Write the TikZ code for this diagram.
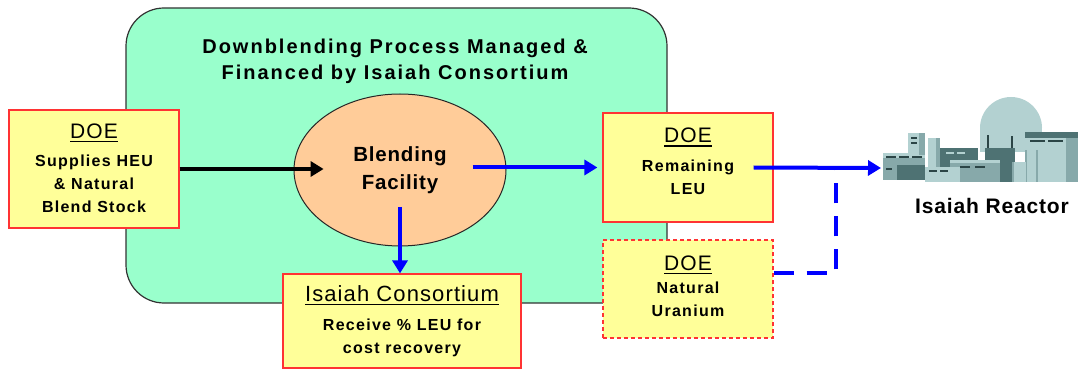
\documentclass[tikz,border=0pt]{standalone}
\usepackage{fontspec}
\setmainfont{Liberation Sans}
\newfontfamily\bodyfont[LetterSpace=8]{Liberation Sans}
\newfontfamily\headfont[LetterSpace=5]{Liberation Sans}
\newfontfamily\titlefont[LetterSpace=10]{Liberation Sans}
\newfontfamily\blendfont[LetterSpace=4]{Liberation Sans}
\usetikzlibrary{arrows.meta,shapes.geometric,calc}

\definecolor{panelgreen}{HTML}{99FFCC}
\definecolor{noteyellow}{HTML}{FFFF99}
\definecolor{peach}{HTML}{FFCC99}
\definecolor{edgered}{HTML}{FF3333}
\definecolor{flowblue}{HTML}{0000FF}
\definecolor{rlight}{HTML}{B3D1D1}
\definecolor{rmid}{HTML}{87A9AA}
\definecolor{rdark}{HTML}{4E7273}
\definecolor{rvdark}{HTML}{2B4546}

% underlined heading (regular weight) with a heavier rule
\newcommand\ulhead[2]{{\headfont\mdseries\fontsize{#1}{#1}\selectfont
  \setbox0\hbox{#2}\leavevmode\rlap{\rule[-4pt]{\wd0}{1.6pt}}\box0}}

\tikzset{
  panel/.style={draw=black!80, line width=1.2pt, fill=panelgreen, rounded corners=38pt},
  notebox/.style={draw=edgered, line width=1.2pt, fill=noteyellow, inner sep=0pt},
  dashbox/.style={notebox, dash pattern=on 4pt off 3pt},
  blendnode/.style={ellipse, draw=black!85, line width=1pt, fill=peach,
    inner sep=0pt, align=center,
    font=\blendfont\bfseries\fontsize{20.5}{27.5}\selectfont},
  bodytext/.style={align=center, inner sep=0pt, font=\bodyfont\bfseries\fontsize{16}{23}\selectfont},
  titletext/.style={align=center, inner sep=0pt, font=\titlefont\bfseries\fontsize{20}{26}\selectfont},
  plantlabel/.style={inner sep=0pt, font=\blendfont\bfseries\fontsize{21}{21}\selectfont},
  flow/.style={line width=4pt, -{Triangle[length=13pt,width=15pt]}},
  blueflow/.style={flow, flowblue},
  dashflow/.style={line width=4pt, flowblue, dash pattern=on 20pt off 13pt},
}

\begin{document}
\begin{tikzpicture}[x=1pt,y=-1pt]
\useasboundingbox (0,0) rectangle (1078,371);

% managed process area
\node[panel, minimum width=541pt, minimum height=295pt] (panel) at (396.5,155.5) {};
\node[titletext] (title) at (395,61) {Downblending Process Managed \&\\Financed by Isaiah Consortium};

% blending facility
\node[blendnode, minimum width=212pt, minimum height=152pt] (blend) at (400,170) {Blending\\Facility};

% parties
\node[notebox, minimum width=170pt, minimum height=118pt] (supply) at (94,169) {};
\node[bodytext] (supplytxt) at ([yshift=1pt]supply.center) {\ulhead{21}{DOE}\\[5pt]Supplies HEU\\\& Natural\\Blend Stock};

\node[notebox, minimum width=238pt, minimum height=94pt] (consort) at (402,321) {};
\node[bodytext] (consorttxt) at ([yshift=0pt]consort.center) {\ulhead{22}{Isaiah Consortium}\\[6pt]Receive \% LEU for\\cost recovery};

\node[notebox, minimum width=170pt, minimum height=109pt] (leu) at (688,167.5) {};
\node[bodytext] (leutxt) at ([yshift=6pt]leu.center) {\ulhead{21}{DOE}\\[6pt]Remaining\\LEU};

\node[dashbox, minimum width=170pt, minimum height=98pt] (natural) at (688,289) {};
\node[bodytext] (naturaltxt) at ([yshift=3pt]natural.center) {\ulhead{21}{DOE}\\[0pt]Natural\\Uranium};

% reactor plant
\fill[rlight] (980,128) rectangle (1042,152);
\fill[rlight] (980,128) arc[start angle=180, end angle=0, radius=31pt];
\fill[rvdark] (987,135) rectangle (989,150);
\fill[rvdark] (1011,136) rectangle (1013,150);
\fill[rmid] (883,153) rectangle (925,180);
\fill[rlight] (883,153) rectangle (925,158);
\fill[rvdark] (886,156) rectangle (896,158);
\fill[rvdark] (899,156) rectangle (909,158);
\fill[rvdark] (912,156) rectangle (922,158);
\fill[rdark] (897,165) rectangle (925,180);
\fill[rvdark] (886,168) rectangle (892,170);
\fill[rlight] (908,133) rectangle (925,155);
\fill[rmid] (919,133) rectangle (925,155);
\fill[rvdark] (911,137) rectangle (917,139);
\fill[rvdark] (911,142) rectangle (917,144);
\fill[rlight] (928,138) rectangle (940,180);
\fill[rmid] (936,138) rectangle (940,180);
\fill[rdark] (940,148) rectangle (978,180);
\fill[rlight] (946,152) rectangle (954,154);
\fill[rlight] (957,152) rectangle (965,154);
\fill[rdark] (985,148) rectangle (1015,182);
\fill[rmid] (950,160) rectangle (1000,182);
\fill[rlight] (950,160) rectangle (1000,163);
\fill[rvdark] (960,166) rectangle (970,168);
\fill[rvdark] (975,166) rectangle (985,168);
\fill[rlight] (925,167) rectangle (960,182);
\fill[rvdark] (929,170) rectangle (937,172);
\fill[rvdark] (940,170) rectangle (948,172);
\fill[rdark] (1025,132) rectangle (1078,138);
\fill[rlight] (1025,138) rectangle (1066,182);
\fill[rmid] (1066,138) rectangle (1078,182);
\fill[rvdark] (1030,140) rectangle (1045,142);
\fill[rvdark] (1048,140) rectangle (1063,142);
\fill[rlight] (1025,150) rectangle (1050,182);
\fill[rmid] (1036,150) rectangle (1038,182);
\fill[rmid] (1025,150) rectangle (1027,182);
\fill[rlight] (1012,162) rectangle (1026,182);
\fill[rmid] (1012,162) rectangle (1014,182);
\node[plantlabel] (plantname) at (992,206) {Isaiah Reactor};
\coordinate (plant) at (881,168);
\coordinate (join) at (836,168);
\coordinate (blendout) at ([xshift=-34pt]blend.east);

% material flows
\draw[flow] (supply.east) -- ++(144,0);
\draw[blueflow] (blendout |- leu.west) -- ([xshift=-5pt]leu.west);
\draw[blueflow] ([yshift=-37pt]blend.center) -- (blend.center |- consort.north);
\draw[blueflow] ([xshift=-20pt]leu.east) -- (plant);
\draw[dashflow] ([yshift=16pt]natural.east) -| (join);
\end{tikzpicture}
\end{document}
